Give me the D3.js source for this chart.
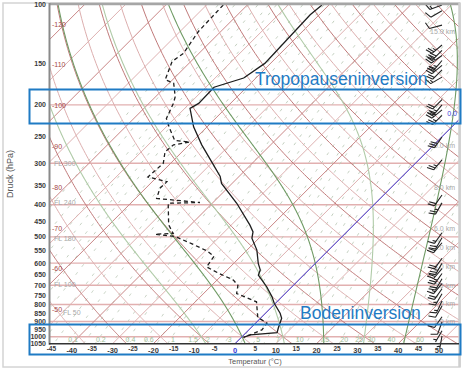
<!DOCTYPE html>
<html>
<head>
<meta charset="utf-8">
<script src="https://cdn.jsdelivr.net/npm/d3@7"></script>
<style>
  body { margin: 0; background: #fff; }
  text { font-family: "Liberation Sans", Arial, sans-serif; }
</style>
</head>
<body>
<div id="chart"></div>
<script>
// sounding (pressure hPa, temperature degC)
const tempP = [100, 107, 150, 166, 177, 198, 205, 233, 264, 297, 329, 345, 396, 461, 483, 505, 548, 601, 629, 652, 707, 757, 793, 850, 880, 943, 972, 988, 1004];
const tempT = [-61.7, -62.2, -61.4, -63.0, -68.0, -67.8, -68.7, -63.3, -56.9, -50.3, -44.6, -42.6, -34.0, -25.4, -23.0, -21.7, -17.6, -14.0, -11.9, -11.1, -6.2, -2.5, -0.3, 3.6, 5.2, 6.8, 7.6, 1.6, 0.5];

const dewP = [100, 120, 140, 148, 168, 172, 189, 198, 220, 236, 256, 259, 264, 277, 300, 330, 341, 357, 383, 394, 396, 460, 488, 491, 499, 524, 552, 572, 616, 646, 675, 700, 741, 785, 874, 910, 954, 987, 1004];
const dewT = [-85.9, -85.5, -83.8, -84.6, -81.8, -78.9, -75.2, -74.0, -72.0, -68.7, -64.6, -60.5, -63.8, -64.2, -61.8, -62.2, -56.4, -56.5, -54.8, -43.2, -50.8, -45.4, -42.2, -46.4, -40.9, -35.2, -29.5, -26.6, -25.8, -20.9, -16.0, -13.6, -11.9, -5.0, -0.9, 2.8, 3.2, 1.5, 0.5];

// wind (direction deg, speed kt)
const windP = [100, 104, 115, 132, 137, 142, 147, 152, 157, 165, 193, 200, 207, 215, 250, 293, 374, 395, 486, 503, 521, 580, 601, 623, 645, 669, 692, 717, 742, 781, 808, 871, 903, 960, 994];
const windDir = [250, 240, 255, 230, 225, 235, 220, 230, 225, 240, 225, 220, 230, 225, 215, 220, 215, 210, 215, 210, 220, 215, 210, 220, 215, 210, 220, 215, 210, 205, 210, 215, 200, 210, 190];
const windSpd = [15, 10, 10, 25, 30, 30, 25, 30, 20, 15, 20, 25, 30, 25, 30, 25, 20, 25, 15, 20, 20, 20, 25, 20, 25, 20, 15, 20, 15, 15, 10, 10, 10, 5, 5];

// axes and reference lines
const pressureTicks = [100, 150, 200, 250, 300, 350, 400, 450, 500, 550, 600, 650, 700, 750, 800, 850, 900, 950, 1000, 1050];
const tempTicks = [-45, -40, -35, -30, -25, -20, -15, -10, -5, 0, 5, 10, 15, 20, 25, 30, 35, 40, 45, 50];
const isobars = [200, 300, 400, 500, 600, 700, 800, 900, 1000];
const isothermLabels = [-120, -110, -100, -90, -80, -70, -60, -50];
const moistAdiabats = [-10, 0, 10, 20, 30, 40];
const mixingRatios = [0.002, 0.004, 0.007, 0.01, 0.015, 0.02, 0.03, 0.05, 0.07, 0.1, 0.15, 0.2, 0.3, 0.4, 0.6, 0.8, 1, 1.5, 2, 2.5, 3, 4, 5, 6, 7, 8, 10, 12, 15, 20, 25, 30, 40, 50, 60, 80];
const mixingLabels = [0.1, 0.2, 0.4, 0.6, 1, 1.5, 2, 3, 5, 7, 10, 15, 20, 25, 30, 40, 60];
const flightLevels = ["FL 50", "FL 100", "FL 180", "FL 240", "FL 300"];
const flightP = [843, 697, 506, 393, 301];
const heightLabels = ["15.0 km", "10.0 km", "8.0 km", "6.0 km", "5.0 km", "4.0 km", "3.0 km", "2.0 km", "1.0 km"];
const heightP = [120.4, 264.4, 356.0, 472.2, 540.2, 616.4, 701.1, 795.0, 898.7];

const width = 465, height = 371;
const plotLeft = 50, plotRight = 459, plotTop = 5;

const svg = d3.select("#chart").append("svg")
    .attr("width", width)
    .attr("height", height);

// outer frame
svg.append("rect")
    .attr("x", 3).attr("y", 3).attr("width", 457).attr("height", 364)
    .attr("fill", "#fff").attr("stroke", "#d4d4d4").attr("stroke-width", 1.5);

const y = d3.scaleLog().domain([100, 1050]).range([plotTop, plotTop + 144.05 * Math.log(10.5)]);
const xT = d3.scaleLinear().domain([0, 50]).range([235, 439]);
const plotBottom = y(1050);
// skewed x: isotherms lean 45 degrees to the right
const sx = (t, p) => xT(t) + (plotBottom - y(p));

svg.append("clipPath").attr("id", "plot")
  .append("rect").attr("x", plotLeft).attr("y", plotTop)
    .attr("width", plotRight - plotLeft).attr("height", plotBottom - plotTop);

const grid = svg.append("g").attr("clip-path", "url(#plot)");
const line = d3.line().x(d => sx(d[0], d[1])).y(d => y(d[1]));
const pLevels = d3.range(100, 1051, 5);

// isobars
grid.selectAll(".isobar").data(isobars).join("line")
    .attr("x1", plotLeft).attr("x2", plotRight)
    .attr("y1", d => y(d)).attr("y2", d => y(d))
    .attr("stroke", "#e2b0b0").attr("stroke-width", 1.4);

// mixing ratio lines
function dewFromMix(w, p) {
  const e = w * p / (622 + w);
  const l = Math.log(e / 6.112);
  return 243.5 * l / (17.67 - l);
}
grid.selectAll(".mix").data(mixingRatios).join("path")
    .attr("d", w => line(pLevels.map(p => [dewFromMix(w, p), p])))
    .attr("fill", "none")
    .attr("stroke", "#bccab8")
    .attr("stroke-width", 0.9)
    .attr("stroke-dasharray", "3,7");

// isotherms
grid.selectAll(".isotherm").data(d3.range(-130, 51, 10)).join("path")
    .attr("d", t => line([[t, 1050], [t, 100]]))
    .attr("fill", "none")
    .attr("stroke", (t, i) => i % 2 ? "#c98686" : "#ddb0b0")
    .attr("stroke-width", 1);

// dry adiabats
grid.selectAll(".dry").data(d3.range(-50, 201, 10)).join("path")
    .attr("d", th => line(pLevels.map(p => [(th + 273.15) * Math.pow(p / 1000, 0.286) - 273.15, p])))
    .attr("fill", "none")
    .attr("stroke", (t, i) => i % 2 ? "#dcaeae" : "#c07a7a")
    .attr("stroke-width", 1);

// moist adiabats
function satVap(tc) { return 6.112 * Math.exp(17.67 * tc / (tc + 243.5)); }
function moistLapse(tk, p) {
  const Rd = 287.04, Cp = 1005.7, Lv = 2.501e6, eps = 0.622;
  const es = satVap(tk - 273.15);
  const rs = eps * es / (p - es);
  return (Rd * tk + Lv * rs) / (Cp + Lv * Lv * rs * eps / (Rd * tk * tk)) / p;
}
function moistCurve(tw) {
  const up = [], down = [];
  let tk = tw + 273.15;
  for (let p = 1000; p >= 100; p -= 2) {
    up.push([tk - 273.15, p]);
    const k1 = moistLapse(tk, p);
    const k2 = moistLapse(tk - 2 * k1, p - 2);
    tk -= (k1 + k2);
  }
  tk = tw + 273.15;
  for (let p = 1000; p <= 1050; p += 2) {
    down.push([tk - 273.15, p]);
    tk += moistLapse(tk, p) * 2;
  }
  return down.reverse().concat(up);
}
grid.selectAll(".moist").data(moistAdiabats).join("path")
    .attr("d", tw => line(moistCurve(tw)))
    .attr("fill", "none")
    .attr("stroke", (t, i) => i % 2 ? "#6f9a64" : "#b0cba8")
    .attr("stroke-width", 1.1);

// 0 degC isotherm
grid.append("path")
    .attr("d", line([[0, 1050], [0, 100]]))
    .attr("stroke", "#4646e0").attr("stroke-width", 1).attr("fill", "none");

// labels in the plot
svg.selectAll(".tlab").data(isothermLabels).join("text")
    .attr("x", plotLeft + 2)
    .attr("y", t => xT(t) + plotBottom - 65)
    .attr("dy", "0.35em")
    .attr("font-size", 7).attr("fill", "#a54848")
    .text(d => d);

svg.selectAll(".fl").data(flightLevels).join("text")
    .attr("x", (d, i) => plotLeft + (i === 0 ? 13 : 4))
    .attr("y", (d, i) => y(flightP[i]))
    .attr("dy", "0.35em")
    .attr("font-size", 7).attr("fill", "#a8a8a8")
    .text(d => d);

svg.selectAll(".km").data(heightLabels).join("text")
    .attr("x", 455)
    .attr("y", (d, i) => y(heightP[i]))
    .attr("dy", "0.35em")
    .attr("text-anchor", "end")
    .attr("font-size", 7).attr("fill", "#a8a8a8")
    .text(d => d);

svg.selectAll(".mixlab").data(mixingLabels).join("text")
    .attr("x", w => sx(dewFromMix(w, 1023), 1023) + 3)
    .attr("y", y(1023))
    .attr("dy", "0.35em")
    .attr("text-anchor", "middle")
    .attr("font-size", 7).attr("fill", "#9dbb96")
    .text(d => d);

// freezing level label
const yFreeze = xT(0) + plotBottom - plotRight;
svg.append("text")
    .attr("x", 457).attr("y", yFreeze - 6)
    .attr("dy", "0.35em")
    .attr("text-anchor", "end")
    .attr("font-size", 7).attr("fill", "#3a3ad8")
    .text("0.0");

// profiles
const prof = svg.append("g").attr("clip-path", "url(#plot)");
prof.append("path")
    .datum(tempP.map((p, i) => [tempT[i], p]))
    .attr("d", line)
    .attr("fill", "none").attr("stroke", "#1e1e1e").attr("stroke-width", 1.3);
prof.append("path")
    .datum(dewP.map((p, i) => [dewT[i], p]))
    .attr("d", line)
    .attr("fill", "none").attr("stroke", "#1e1e1e").attr("stroke-width", 1.3)
    .attr("stroke-dasharray", "4,3");

// wind barbs
function barb(dir, spd) {
  const a = dir * Math.PI / 180;
  const ux = Math.sin(a), uy = -Math.cos(a);
  const r = 70 * Math.PI / 180;
  const fx = ux * Math.cos(r) - uy * Math.sin(r);
  const fy = ux * Math.sin(r) + uy * Math.cos(r);
  const L = 13;
  let path = `M0,0L${ux * L},${uy * L}`;
  let s = Math.round(spd / 5) * 5, pos = L;
  while (s >= 10) {
    path += `M${ux * pos},${uy * pos}l${fx * 7},${fy * 7}`;
    pos -= 2.5; s -= 10;
  }
  if (s >= 5) {
    if (pos === L) pos -= 2.5;
    path += `M${ux * pos},${uy * pos}l${fx * 3.5},${fy * 3.5}`;
  }
  return path;
}
svg.selectAll(".barb").data(windP).join("path")
    .attr("transform", p => `translate(442,${y(p)})`)
    .attr("d", (p, i) => barb(windDir[i], windSpd[i]))
    .attr("fill", "none").attr("stroke", "#222").attr("stroke-width", 1.1);

// frame and axes
svg.append("line").attr("x1", plotLeft).attr("x2", plotRight + 1).attr("y1", 4).attr("y2", 4)
    .attr("stroke", "#a6a6a6").attr("stroke-width", 2.5);
svg.append("line").attr("x1", plotRight + 0.5).attr("x2", plotRight + 0.5).attr("y1", 3).attr("y2", 367)
    .attr("stroke", "#cfcfcf").attr("stroke-width", 2.5);
svg.append("line").attr("x1", plotLeft - 0.5).attr("x2", plotLeft - 0.5).attr("y1", 3).attr("y2", plotBottom + 1)
    .attr("stroke", "#8a8a8a").attr("stroke-width", 2);
svg.append("line").attr("x1", plotLeft - 1).attr("x2", plotRight).attr("y1", plotBottom).attr("y2", plotBottom)
    .attr("stroke", "#333").attr("stroke-width", 1.5);

svg.selectAll(".ptick").data(pressureTicks).join("text")
    .attr("x", plotLeft - 4)
    .attr("y", d => y(d))
    .attr("dy", "0.35em")
    .attr("text-anchor", "end")
    .attr("font-size", 7).attr("font-weight", "bold").attr("fill", "#3a3a3a")
    .text(d => d);

svg.selectAll(".xtick").data(tempTicks).join("text")
    .attr("x", d => xT(d))
    .attr("y", d => d % 10 ? 351 : 352.5)
    .attr("text-anchor", "middle")
    .attr("font-size", d => d % 10 ? 6.5 : 7.5)
    .attr("font-weight", "bold")
    .attr("fill", d => d === 0 ? "#3a3ad8" : "#3a3a3a")
    .text(d => d);

svg.append("text")
    .attr("transform", "translate(13,174) rotate(-90)")
    .attr("text-anchor", "middle")
    .attr("font-size", 9).attr("fill", "#555")
    .text("Druck (hPa)");

svg.append("text")
    .attr("x", 255).attr("y", 364)
    .attr("text-anchor", "middle")
    .attr("font-size", 7.5).attr("fill", "#555")
    .text("Temperatur (°C)");

// annotations
const blue = "#1f7bc4";
svg.append("rect").attr("x", 29.5).attr("y", 89.5).attr("width", 431).attr("height", 34)
    .attr("fill", "none").attr("stroke", blue).attr("stroke-width", 2);
svg.append("rect").attr("x", 29.5).attr("y", 324.5).attr("width", 431).attr("height", 30)
    .attr("fill", "none").attr("stroke", blue).attr("stroke-width", 2);
svg.append("text").attr("x", 255).attr("y", 85)
    .attr("font-size", 17.5).attr("fill", blue)
    .text("Tropopauseninversion");
svg.append("text").attr("x", 300).attr("y", 318.5)
    .attr("font-size", 17.5).attr("fill", blue)
    .text("Bodeninversion");
</script>
</body>
</html>
